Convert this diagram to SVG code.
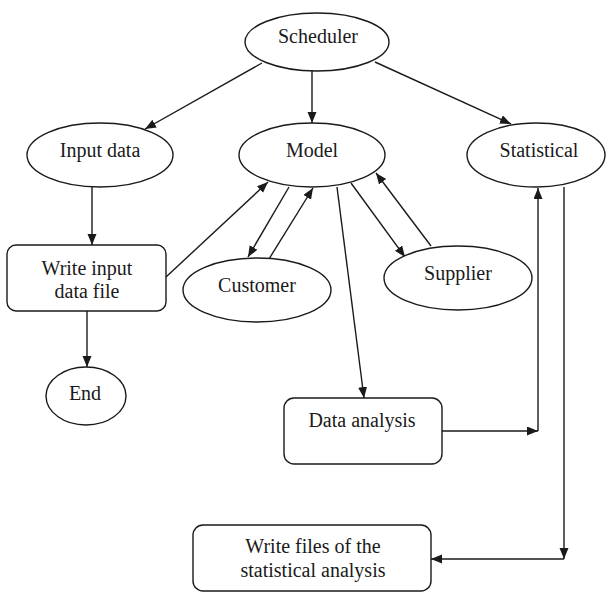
<svg xmlns="http://www.w3.org/2000/svg" width="606" height="592" viewBox="0 0 606 592">
  <style>
    .node { fill: #ffffff; stroke: #1a1a1a; stroke-width: 1.4; }
    .label { font-family: "Liberation Serif", "Times New Roman", serif; font-size: 20px; fill: #1a1a1a; text-anchor: middle; }
    .edge { fill: none; stroke: #1a1a1a; stroke-width: 1.4; }
  </style>
  <defs>
    <marker id="arrow" markerUnits="userSpaceOnUse" markerWidth="12" markerHeight="10" refX="11" refY="4.5" orient="auto">
      <path d="M0,0 L11,4.5 L0,9 z" fill="#1a1a1a"/>
    </marker>
  </defs>

  <rect width="606" height="592" fill="#ffffff"/>

  <g id="connectors">
    <path class="edge" d="M262,63 L145,129" marker-end="url(#arrow)"/>
    <path class="edge" d="M312,71 L312,123" marker-end="url(#arrow)"/>
    <path class="edge" d="M375,62 L511,124" marker-end="url(#arrow)"/>
    <path class="edge" d="M92,187 L92,245" marker-end="url(#arrow)"/>
    <path class="edge" d="M87,311 L87,367" marker-end="url(#arrow)"/>
    <path class="edge" d="M166,277 L268,182" marker-end="url(#arrow)"/>
    <path class="edge" d="M289,187 L248,257" marker-end="url(#arrow)"/>
    <path class="edge" d="M269,259 L313,188" marker-end="url(#arrow)"/>
    <path class="edge" d="M351,183 L405,257" marker-end="url(#arrow)"/>
    <path class="edge" d="M431,246 L376,173" marker-end="url(#arrow)"/>
    <path class="edge" d="M337,187 L364,398" marker-end="url(#arrow)"/>
    <path class="edge" d="M442,431 L538,431" marker-end="url(#arrow)"/>
    <path class="edge" d="M538,431 L538,188" marker-end="url(#arrow)"/>
    <path class="edge" d="M564,187 L564,559" marker-end="url(#arrow)"/>
    <path class="edge" d="M564,559 L431,559" marker-end="url(#arrow)"/>
  </g>

  <g id="scheduler">
    <ellipse class="node" cx="317" cy="42" rx="72" ry="29"/>
    <text class="label" x="318" y="43">Scheduler</text>
  </g>
  <g id="input-data">
    <ellipse class="node" cx="100" cy="155" rx="73" ry="32"/>
    <text class="label" x="100" y="157">Input data</text>
  </g>
  <g id="model">
    <ellipse class="node" cx="312" cy="155" rx="73" ry="32"/>
    <text class="label" x="312" y="157">Model</text>
  </g>
  <g id="statistical">
    <ellipse class="node" cx="536" cy="155" rx="69" ry="32"/>
    <text class="label" x="539" y="157">Statistical</text>
  </g>
  <g id="write-input">
    <rect class="node" x="7" y="245" width="159" height="66" rx="9"/>
    <text class="label" x="87" y="275">Write input</text>
    <text class="label" x="87" y="298">data file</text>
  </g>
  <g id="customer">
    <ellipse class="node" cx="257" cy="290" rx="74" ry="32"/>
    <text class="label" x="257" y="292">Customer</text>
  </g>
  <g id="supplier">
    <ellipse class="node" cx="458" cy="278" rx="74" ry="32"/>
    <text class="label" x="458" y="280">Supplier</text>
  </g>
  <g id="end">
    <ellipse class="node" cx="86" cy="396" rx="40" ry="29"/>
    <text class="label" x="85" y="400">End</text>
  </g>
  <g id="data-analysis">
    <rect class="node" x="284" y="398" width="158" height="66" rx="10"/>
    <text class="label" x="362" y="427">Data analysis</text>
  </g>
  <g id="write-files">
    <rect class="node" x="193" y="525" width="238" height="66" rx="10"/>
    <text class="label" x="313" y="553">Write files of the</text>
    <text class="label" x="313" y="577">statistical analysis</text>
  </g>
</svg>
